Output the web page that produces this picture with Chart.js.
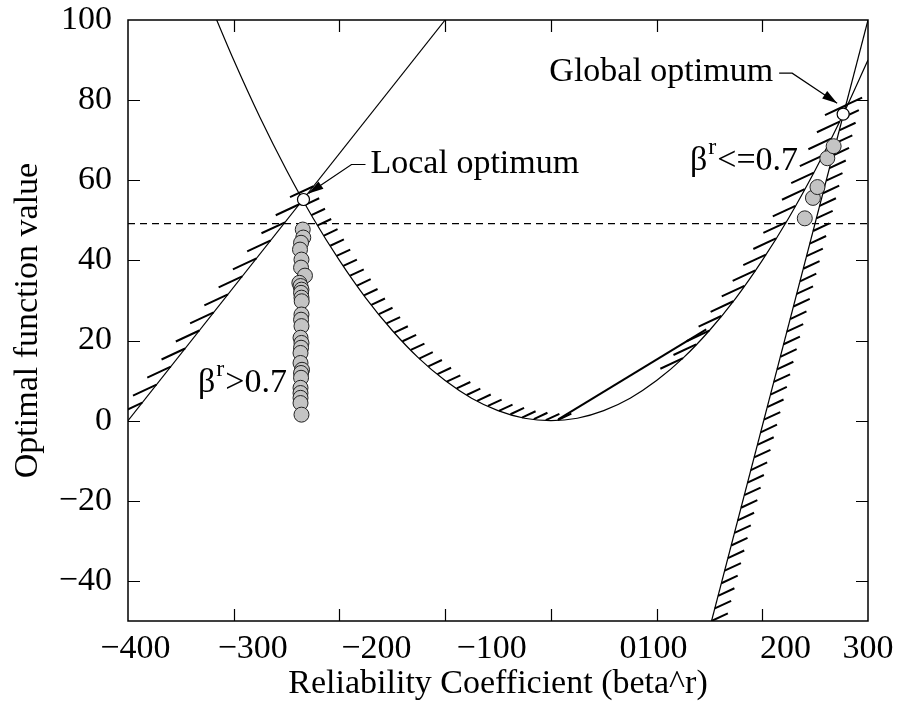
<!DOCTYPE html>
<html>
<head>
<meta charset="utf-8">
<script src="https://cdn.jsdelivr.net/npm/chart.js@4/dist/chart.umd.min.js"></script>
<style>
  html, body { margin: 0; padding: 0; background: #fff; }
</style>
</head>
<body>
<canvas id="chart" width="902" height="704"></canvas>
<script>
// axes
const xTickValues = [-300, -200, -100, 0, 100, 200];
const xTickLabels = ['\u2212400', '\u2212300', '\u2212200', '\u2212100', '0100', '200', '300'];
const xLabelAt = [-393, -282, -165, -56, 97, 222, 300]; // the printed labels sit off the ticks
const yTickValues = [-40, -20, 0, 20, 40, 60, 80, 100];

// objective curve
const curveX = [-325, -300, -275, -250, -225, -200, -175, -150, -125, -100, -75, -50, -25, 0, 25, 50, 75, 100, 125, 150, 175, 200, 225, 250, 275, 300];
const curveY = [105.6, 90, 75.6, 62.5, 50.6, 40, 30.6, 22.5, 15.6, 10, 5.6, 2.5, 0.6, 0, 0.6, 2.5, 5.6, 10, 15.6, 22.5, 30.6, 40, 50.6, 62.5, 75.6, 90];

// constraint lines
const lineAX = [-400, -100];
const lineAY = [0, 100];
const lineBX = [152, 300];
const lineBY = [-50, 100];
const bandX = [7, 147];
const bandY = [0.3, 22.8];
const levelX = [-400, 300];
const levelY = [49.2, 49.2];

// runs with beta^r > 0.7
const leftDotsX = [-234.7, -234.2, -236.3, -237.3, -235.9, -236.3, -232.6, -237.9, -236.8, -235.9, -236.3, -235.9, -235.7, -235.9, -236.3, -235.9, -236.8, -235.9, -236.3, -236.8, -236.8, -235.4, -236.3, -236.3, -236.8, -236.8, -236.8, -236.8, -235.9];
const leftDotsY = [47.7, 45.7, 44.4, 42.7, 40.2, 38.2, 36.2, 34.4, 33.6, 32.7, 31.9, 30.7, 29.8, 26.5, 25.2, 23.6, 20.7, 19.4, 18.2, 16.9, 14.4, 12.7, 11.9, 10.7, 8.2, 6.9, 5.7, 4.4, 1.5];
// runs with beta^r <= 0.7
const rightDotsX = [240.2, 247.9, 252.2, 261.5, 267.5];
const rightDotsY = [50.5, 55.6, 58.3, 65.5, 68.5];
// local and global optimum
const optX = [-234, 276.5];
const optY = [55.2, 76.5];

const serif = "'Liberation Serif', 'Times New Roman', serif";
const pts = (xs, ys) => xs.map((x, i) => ({ x: x, y: ys[i] }));

// hatch marks along curves: dataset, x-range, spacing, direction (deg), length
const hatchRuns = [
  { ds: 1, from: -400, to: -214, step: 23, angle: 205, len: 26 },
  { ds: 0, from: -232, to: 12, step: 12, angle: 25, len: 15 },
  { ds: 0, from: 125, to: 281, step: 19, angle: 205, len: 25 },
  { ds: 2, from: 152, to: 282, step: 13, angle: 25, len: 18 }
];

const hatchPlugin = {
  id: 'hatch',
  beforeDatasetsDraw(chart) {
    const ctx = chart.ctx, area = chart.chartArea, xs = chart.scales.x;
    ctx.save();
    ctx.beginPath();
    ctx.rect(area.left, area.top, area.right - area.left, area.bottom - area.top);
    ctx.clip();
    ctx.beginPath();
    hatchRuns.forEach(run => {
      const p = chart.getDatasetMeta(run.ds).data.map(e => ({ x: e.x, y: e.y }));
      const x0 = xs.getPixelForValue(run.from), x1 = xs.getPixelForValue(run.to);
      const a = run.angle * Math.PI / 180;
      const vx = run.len * Math.cos(a), vy = -run.len * Math.sin(a);
      let carry = 0;
      for (let i = 0; i < p.length - 1; i++) {
        const A = p[i], B = p[i + 1];
        if (B.x < x0 || A.x > x1) continue;
        const ta = Math.max(0, (x0 - A.x) / (B.x - A.x));
        const tb = Math.min(1, (x1 - A.x) / (B.x - A.x));
        const sx = A.x + (B.x - A.x) * ta, sy = A.y + (B.y - A.y) * ta;
        const ex = A.x + (B.x - A.x) * tb, ey = A.y + (B.y - A.y) * tb;
        const len = Math.hypot(ex - sx, ey - sy);
        if (len === 0) continue;
        let d = carry;
        while (d <= len) {
          const t = d / len;
          const px = sx + (ex - sx) * t, py = sy + (ey - sy) * t;
          ctx.moveTo(px, py);
          ctx.lineTo(px + vx, py + vy);
          d += run.step;
        }
        carry = d - len;
      }
    });
    ctx.lineWidth = 2;
    ctx.strokeStyle = '#000';
    ctx.stroke();
    ctx.restore();
  }
};

function arrow(ctx, pts) {
  ctx.beginPath();
  ctx.moveTo(pts[0][0], pts[0][1]);
  for (let i = 1; i < pts.length; i++) ctx.lineTo(pts[i][0], pts[i][1]);
  ctx.lineWidth = 1.2;
  ctx.stroke();
  const n = pts.length;
  const tx = pts[n - 1][0], ty = pts[n - 1][1];
  const ang = Math.atan2(ty - pts[n - 2][1], tx - pts[n - 2][0]);
  ctx.beginPath();
  ctx.moveTo(tx, ty);
  ctx.lineTo(tx - 15 * Math.cos(ang) + 4.5 * Math.sin(ang), ty - 15 * Math.sin(ang) - 4.5 * Math.cos(ang));
  ctx.lineTo(tx - 15 * Math.cos(ang) - 4.5 * Math.sin(ang), ty - 15 * Math.sin(ang) + 4.5 * Math.cos(ang));
  ctx.closePath();
  ctx.fill();
}

function betaText(ctx, x, y, rest) {
  ctx.textAlign = 'left';
  ctx.textBaseline = 'alphabetic';
  ctx.font = '34px ' + serif;
  ctx.fillText('\u03b2', x, y);
  const bw = ctx.measureText('\u03b2').width;
  ctx.font = '24px ' + serif;
  ctx.fillText('r', x + bw + 1, y - 16);
  const rw = ctx.measureText('r').width;
  ctx.font = '34px ' + serif;
  ctx.fillText(rest, x + bw + rw + 2, y);
}

const framePlugin = {
  id: 'frame',
  afterDatasetsDraw(chart) {
    const ctx = chart.ctx, a = chart.chartArea, xs = chart.scales.x, ys = chart.scales.y;
    ctx.save();
    ctx.strokeStyle = '#000';
    ctx.fillStyle = '#000';
    ctx.lineWidth = 1.5;
    ctx.strokeRect(a.left, a.top, a.right - a.left, a.bottom - a.top);
    ctx.beginPath();
    const tl = 12;
    xTickValues.forEach(v => {
      const px = Math.round(xs.getPixelForValue(v)) + 0.5;
      ctx.moveTo(px, a.bottom); ctx.lineTo(px, a.bottom - tl);
      ctx.moveTo(px, a.top); ctx.lineTo(px, a.top + tl);
    });
    yTickValues.filter(v => v < 100).forEach(v => {
      const py = Math.round(ys.getPixelForValue(v)) + 0.5;
      ctx.moveTo(a.left, py); ctx.lineTo(a.left + tl, py);
      ctx.moveTo(a.right, py); ctx.lineTo(a.right - tl, py);
    });
    ctx.lineWidth = 1.2;
    ctx.stroke();

    // annotations
    const lx = xs.getPixelForValue(optX[0]), ly = ys.getPixelForValue(optY[0]);
    const gx = xs.getPixelForValue(optX[1]), gy = ys.getPixelForValue(optY[1]);
    arrow(ctx, [[lx + 62, ly - 35], [lx + 48, ly - 35], [lx + 5, ly - 6]]);
    arrow(ctx, [[gx - 64, gy - 41], [gx - 51, gy - 41], [gx - 6, gy - 11]]);
    ctx.font = '34px ' + serif;
    ctx.textBaseline = 'middle';
    ctx.textAlign = 'left';
    ctx.fillText('Local optimum', lx + 67, ly - 35);
    ctx.textAlign = 'right';
    ctx.fillText('Global optimum', gx - 70, gy - 42);
    betaText(ctx, xs.getPixelForValue(131.6), ys.getPixelForValue(62.6), '<=0.7');
    betaText(ctx, xs.getPixelForValue(-333.8), ys.getPixelForValue(7.2), '>0.7');
    ctx.restore();
  }
};

const thin = { borderColor: '#000', borderWidth: 1.2, pointRadius: 0, fill: false };

new Chart(document.getElementById('chart'), {
  type: 'line',
  data: {
    datasets: [
      Object.assign({ label: 'objective', data: pts(curveX, curveY), cubicInterpolationMode: 'monotone' }, thin),
      Object.assign({ label: 'constraint A', data: pts(lineAX, lineAY) }, thin),
      Object.assign({ label: 'constraint B', data: pts(lineBX, lineBY) }, thin),
      Object.assign({ label: 'level', data: pts(levelX, levelY), borderDash: [7, 5] }, thin),
      Object.assign({ label: 'band', data: pts(bandX, bandY) }, thin, { borderWidth: 2 }),
      {
        label: 'beta^r > 0.7', data: pts(leftDotsX, leftDotsY), showLine: false, order: -1,
        pointRadius: 7.5, backgroundColor: '#c4c4c4', borderColor: '#222', borderWidth: 1
      },
      {
        label: 'beta^r <= 0.7', data: pts(rightDotsX, rightDotsY), showLine: false, order: -1,
        pointRadius: 7.5, backgroundColor: '#c4c4c4', borderColor: '#222', borderWidth: 1
      },
      {
        label: 'optima', data: pts(optX, optY), showLine: false, order: -2,
        pointRadius: 6, backgroundColor: '#fff', borderColor: '#000', borderWidth: 1.2
      }
    ]
  },
  options: {
    responsive: false,
    animation: false,
    devicePixelRatio: 1,
    layout: { padding: { left: 0, right: 34, top: 20, bottom: 0 } },
    plugins: { legend: { display: false }, tooltip: { enabled: false } },
    scales: {
      x: {
        type: 'linear', min: -400, max: 300,
        afterBuildTicks: s => { s.ticks = xLabelAt.map(v => ({ value: v })); },
        afterFit: s => { s.height = 83; s.paddingLeft = 0; s.paddingRight = 0; },
        grid: { display: false }, border: { display: false },
        ticks: {
          autoSkip: false, maxRotation: 0, padding: 0, color: '#000',
          font: { family: serif, size: 34 },
          callback: (v, i) => xTickLabels[i]
        },
        title: {
          display: true, text: 'Reliability Coefficient (beta^r)', color: '#000',
          font: { family: serif, size: 34 }, padding: { top: 0, bottom: 0 }
        }
      },
      y: {
        min: -50, max: 100,
        afterBuildTicks: s => { s.ticks = yTickValues.map(v => ({ value: v })); },
        afterFit: s => { s.width = 128; s.paddingTop = 0; s.paddingBottom = 0; },
        grid: { display: false }, border: { display: false },
        ticks: {
          padding: 8, color: '#000', font: { family: serif, size: 34 },
          callback: v => String(v).replace('-', '\u2212')
        },
        title: {
          display: true, text: 'Optimal function value', color: '#000',
          font: { family: serif, size: 34 }, padding: { top: 8, bottom: 0 }
        }
      }
    }
  },
  plugins: [hatchPlugin, framePlugin]
});
</script>
</body>
</html>
